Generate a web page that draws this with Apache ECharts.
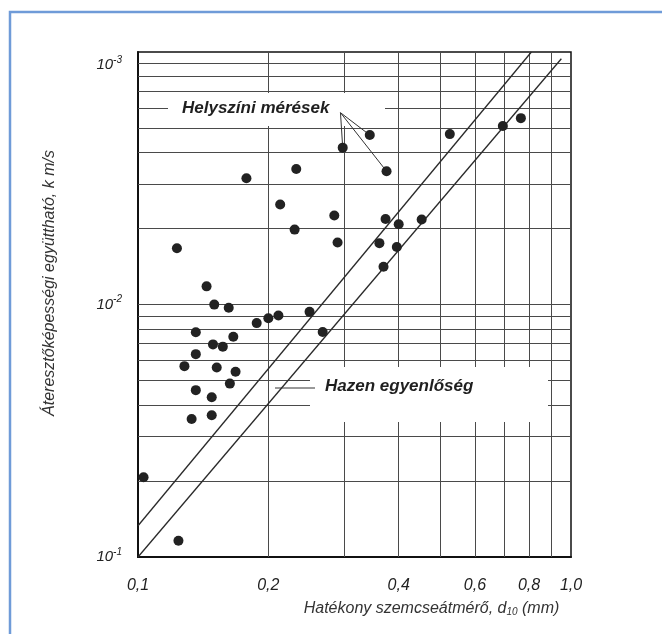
<!DOCTYPE html>
<html>
<head>
<meta charset="utf-8">
<script src="https://cdn.jsdelivr.net/npm/echarts@6/dist/echarts.min.js"></script>
<style>
  html, body { margin: 0; padding: 0; background: #fff; }
  #chart { width: 662px; height: 634px; }
</style>
</head>
<body>
<div id="chart"></div>
<script>
// Effective grain size d10 (mm) of each field measurement
const grainSize = [
  0.103, 0.124, 0.123, 0.128, 0.133, 0.136, 0.136, 0.136, 0.144, 0.148,
  0.148, 0.149, 0.150, 0.152, 0.157, 0.162, 0.163, 0.166, 0.168, 0.178,
  0.188, 0.200, 0.211, 0.213, 0.230, 0.232, 0.249, 0.267, 0.284, 0.289,
  0.297, 0.343, 0.375, 0.361, 0.369, 0.373, 0.396, 0.400, 0.452, 0.525,
  0.696, 0.766
];
// Permeability on the chart's log scale (one decade per labelled power)
const permeability = [
  2.07, 1.16, 16.7, 5.70, 3.52, 7.77, 6.36, 4.58, 11.8, 4.29,
  3.64, 6.95, 9.99, 5.63, 6.81, 9.71, 4.86, 7.45, 5.42, 31.6,
  8.44, 8.82, 9.05, 24.9, 19.8, 34.4, 9.35, 7.78, 22.5, 17.6,
  41.8, 46.9, 33.7, 17.5, 14.1, 21.8, 16.9, 20.8, 21.7, 47.3,
  50.9, 54.7
];
// Hazen relation, two parallel bounding lines (end points)
const hazenUpperD = [0.1, 0.81];
const hazenUpperK = [1.33, 100];
const hazenLowerD = [0.1, 0.95];
const hazenLowerK = [1.0, 94];
// Points the "Helyszíni mérések" callout points at, and where its arrows meet
const calloutTargets = [30, 31, 32];
const calloutAnchor = [0.2935, 57.5];

// Axis ticks and labels
const xTicks = [0.1, 0.2, 0.4, 0.6, 0.8, 1.0];
const xTickLabels = ['0,1', '0,2', '0,4', '0,6', '0,8', '1,0'];
const yTicks = [1, 10, 100];
const yTickExponents = ['-1', '-2', '-3'];
// Log-paper grid lines
const xGridLines = [0.2, 0.3, 0.4, 0.5, 0.6, 0.7, 0.8, 0.9];
const yGridLines = [2, 3, 4, 5, 6, 7, 8, 9, 10, 20, 30, 40, 50, 60, 70, 80, 90];

const FONT = '"Liberation Sans", Arial, sans-serif';
const INK = '#1f1f1f';

const chart = echarts.init(document.getElementById('chart'), null, { renderer: 'canvas' });

const measured = grainSize.map((d, i) => [d, permeability[i]]);

function tickIndex(list, v) {
  let best = 0;
  list.forEach((t, i) => {
    if (Math.abs(Math.log10(t) - Math.log10(v)) < Math.abs(Math.log10(list[best]) - Math.log10(v))) best = i;
  });
  return best;
}

chart.setOption({
  animation: false,
  backgroundColor: '#fff',
  grid: {
    left: 138, right: 91, top: 52, bottom: 77,
    show: true, borderColor: '#111', borderWidth: 1.5, backgroundColor: 'transparent'
  },
  xAxis: {
    type: 'log', logBase: 10, min: 0.1, max: 1.0,
    axisLine: { show: true, onZero: false, lineStyle: { color: '#111', width: 2 } },
    axisTick: { show: false },
    splitLine: { show: false },
    axisLabel: {
      customValues: xTicks,
      margin: 21,
      fontFamily: FONT, fontSize: 16, fontStyle: 'italic', color: '#222',
      formatter: v => xTickLabels[tickIndex(xTicks, v)]
    },
    name: 'Hatékony szemcseátmérő, d{sub|10} (mm)',
    nameLocation: 'middle',
    nameGap: 44,
    nameTextStyle: {
      fontFamily: FONT, fontSize: 16, fontStyle: 'italic', color: '#333',
      padding: [0, 0, 0, 154],
      rich: { sub: { fontFamily: FONT, fontSize: 10, fontStyle: 'italic', color: '#333', verticalAlign: 'bottom', padding: [6, 0, 0, 0] } }
    }
  },
  yAxis: {
    type: 'log', logBase: 10, min: 1, max: 100,
    axisLine: { show: true, onZero: false, lineStyle: { color: '#111', width: 2 } },
    axisTick: { show: false },
    splitLine: { show: false },
    axisLabel: {
      margin: 16,
      color: '#222',
      formatter: v => {
        const i = tickIndex(yTicks, v);
        const label = '{b|10}{s|' + yTickExponents[i] + '}';
        // the top label sits a little below its grid line
        return i === yTicks.length - 1 ? '{gap| }\n' + label : label;
      },
      rich: {
        b: { fontFamily: FONT, fontSize: 15, fontStyle: 'italic', color: '#222', lineHeight: 20 },
        s: { fontFamily: FONT, fontSize: 10, fontStyle: 'italic', color: '#222', verticalAlign: 'top', lineHeight: 12 },
        gap: { fontSize: 1, lineHeight: 26 }
      }
    },
    name: 'Áteresztőképességi együttható, k m/s',
    nameLocation: 'middle',
    nameGap: 80,
    nameTextStyle: {
      fontFamily: FONT, fontSize: 16, fontStyle: 'italic', color: '#333',
      padding: [0, 0, 0, 43]
    }
  },
  graphic: [
    // page frame
    {
      type: 'polyline', z: 20,
      shape: { points: [[10, 634], [10, 12], [662, 12]] },
      style: { stroke: '#6f9bd8', lineWidth: 2.5, fill: null }
    },
    // white panels behind the annotations
    { type: 'rect', z: 3, shape: { x: 168, y: 93, width: 217, height: 33 }, style: { fill: '#fff' } },
    { type: 'rect', z: 3, shape: { x: 310, y: 367, width: 238, height: 55 }, style: { fill: '#fff' } },
    {
      type: 'text', z: 12, left: 182, top: 100,
      style: { text: 'Helyszíni mérések', font: 'italic bold 17px ' + FONT, fill: INK }
    },
    {
      type: 'line', z: 12,
      shape: { x1: 275, y1: 388, x2: 315, y2: 388 },
      style: { stroke: '#333', lineWidth: 1 }
    },
    {
      type: 'text', z: 12, left: 325, top: 378,
      style: { text: 'Hazen egyenlőség', font: 'italic bold 17px ' + FONT, fill: INK }
    }
  ],
  series: [
    {
      // log-paper grid
      type: 'line', data: [], silent: true, z: 1,
      markLine: {
        silent: true, symbol: 'none', z: 1, animation: false,
        label: { show: false },
        lineStyle: { color: '#4a4a4a', width: 1, type: 'solid' },
        data: [
          ...xGridLines.map(v => ({ xAxis: v })),
          ...yGridLines.map(v => ({ yAxis: v }))
        ]
      }
    },
    {
      name: 'Hazen felső', type: 'line', z: 6, silent: true,
      symbol: 'none',
      lineStyle: { color: '#2a2a2a', width: 1.3 },
      data: hazenUpperD.map((d, i) => [d, hazenUpperK[i]])
    },
    {
      name: 'Hazen alsó', type: 'line', z: 6, silent: true,
      symbol: 'none',
      lineStyle: { color: '#2a2a2a', width: 1.3 },
      data: hazenLowerD.map((d, i) => [d, hazenLowerK[i]])
    },
    {
      name: 'Helyszíni mérések', type: 'scatter', z: 8,
      symbol: 'circle', symbolSize: 10,
      itemStyle: { color: '#222', opacity: 1 },
      data: measured,
      markLine: {
        silent: true, symbol: 'none', z: 7, animation: false,
        label: { show: false },
        lineStyle: { color: '#333', width: 1, type: 'solid' },
        data: calloutTargets.map(i => [{ coord: calloutAnchor }, { coord: measured[i] }])
      }
    }
  ]
});
</script>
</body>
</html>
